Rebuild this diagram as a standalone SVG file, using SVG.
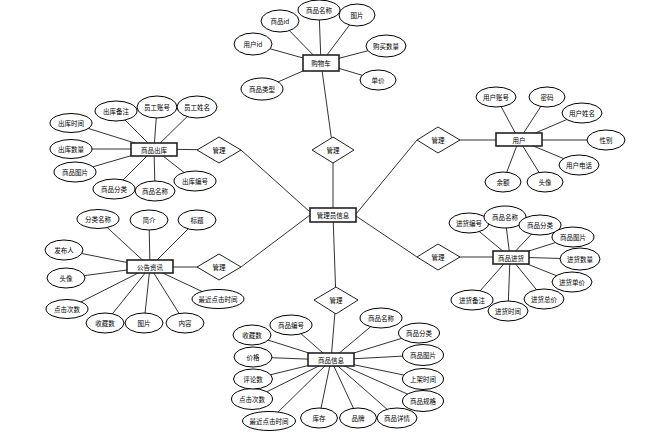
<svg xmlns="http://www.w3.org/2000/svg" width="646" height="445" viewBox="0 0 646 445">
<style>
.c line{stroke:#333;stroke-width:1}
ellipse{fill:#fff;stroke:#000;stroke-width:1}
rect.e{fill:#fff;stroke:#222;stroke-width:1.6}
polygon{fill:#fff;stroke:#222;stroke-width:1}
text{font-family:"Noto Sans CJK SC","Noto Sans",sans-serif;font-size:6.5px;text-anchor:middle;dominant-baseline:central;fill:#000}
</style>
<rect width="646" height="445" fill="#fff"/>
<g class="c" id="connectors">
<!-- main -->
<line x1="333" y1="215" x2="336" y2="300"/>
<line x1="333" y1="215" x2="333" y2="150"/>
<line x1="333" y1="150" x2="321" y2="63"/>
<line x1="310" y1="212" x2="241" y2="150"/>
<line x1="219" y1="150" x2="154" y2="149"/>
<line x1="310" y1="215" x2="241" y2="267"/>
<line x1="219" y1="267" x2="150" y2="267"/>
<line x1="356" y1="214" x2="417" y2="140"/>
<line x1="438" y1="140" x2="519" y2="140"/>
<line x1="356" y1="216" x2="417" y2="257"/>
<line x1="438" y1="257" x2="510" y2="257"/>
<line x1="336" y1="300" x2="331" y2="360"/>
<!-- cart -->
<line x1="321" y1="63" x2="280" y2="21"/>
<line x1="321" y1="63" x2="319" y2="10"/>
<line x1="321" y1="63" x2="357" y2="15"/>
<line x1="321" y1="63" x2="253" y2="44"/>
<line x1="321" y1="63" x2="386" y2="46"/>
<line x1="321" y1="63" x2="378" y2="80"/>
<line x1="321" y1="63" x2="262" y2="89"/>
<!-- outbound -->
<line x1="154" y1="149" x2="71" y2="123"/>
<line x1="154" y1="149" x2="71" y2="149"/>
<line x1="154" y1="149" x2="75" y2="172"/>
<line x1="154" y1="149" x2="116" y2="111"/>
<line x1="154" y1="149" x2="157" y2="107"/>
<line x1="154" y1="149" x2="197" y2="107"/>
<line x1="154" y1="149" x2="114" y2="189"/>
<line x1="154" y1="149" x2="155" y2="191"/>
<line x1="154" y1="149" x2="195" y2="181"/>
<!-- notice -->
<line x1="150" y1="267" x2="98" y2="219"/>
<line x1="150" y1="267" x2="149" y2="220"/>
<line x1="150" y1="267" x2="197" y2="220"/>
<line x1="150" y1="267" x2="64" y2="250"/>
<line x1="150" y1="267" x2="66" y2="278"/>
<line x1="150" y1="267" x2="67" y2="309"/>
<line x1="150" y1="267" x2="105" y2="323"/>
<line x1="150" y1="267" x2="144" y2="323"/>
<line x1="150" y1="267" x2="185" y2="323"/>
<line x1="150" y1="267" x2="218" y2="299"/>
<!-- user -->
<line x1="519" y1="140" x2="496" y2="97"/>
<line x1="519" y1="140" x2="547" y2="97"/>
<line x1="519" y1="140" x2="582" y2="113"/>
<line x1="519" y1="140" x2="606" y2="140"/>
<line x1="519" y1="140" x2="579" y2="165"/>
<line x1="519" y1="140" x2="545" y2="182"/>
<line x1="519" y1="140" x2="503" y2="182"/>
<!-- purchase -->
<line x1="510" y1="257" x2="469" y2="223"/>
<line x1="510" y1="257" x2="505" y2="217"/>
<line x1="510" y1="257" x2="540" y2="225"/>
<line x1="510" y1="257" x2="573" y2="237"/>
<line x1="510" y1="257" x2="580" y2="259"/>
<line x1="510" y1="257" x2="572" y2="282"/>
<line x1="510" y1="257" x2="544" y2="299"/>
<line x1="510" y1="257" x2="508" y2="311"/>
<line x1="510" y1="257" x2="472" y2="300"/>
<!-- goods -->
<line x1="331" y1="360" x2="291" y2="325"/>
<line x1="331" y1="360" x2="381" y2="318"/>
<line x1="331" y1="360" x2="419" y2="333"/>
<line x1="331" y1="360" x2="423" y2="355"/>
<line x1="331" y1="360" x2="423" y2="379"/>
<line x1="331" y1="360" x2="423" y2="401"/>
<line x1="331" y1="360" x2="397" y2="418"/>
<line x1="331" y1="360" x2="358" y2="418"/>
<line x1="331" y1="360" x2="319" y2="418"/>
<line x1="331" y1="360" x2="269" y2="421"/>
<line x1="331" y1="360" x2="252" y2="399"/>
<line x1="331" y1="360" x2="253" y2="379"/>
<line x1="331" y1="360" x2="253" y2="357"/>
<line x1="331" y1="360" x2="252" y2="335"/>
</g>

<g id="admin"><rect class="e" x="310" y="208" width="46" height="14"/><text x="333" y="215">管理员信息</text></g>

<g id="rel-top"><polygon points="333,137 354,150 333,163 312,150"/><text x="333" y="150">管理</text></g>
<g id="rel-ul"><polygon points="219,137 241,150 219,163 197,150"/><text x="219" y="150">管理</text></g>
<g id="rel-ll"><polygon points="219,254 241,267 219,280 197,267"/><text x="219" y="267">管理</text></g>
<g id="rel-ur"><polygon points="438,127 460,140 438,153 417,140"/><text x="438" y="140">管理</text></g>
<g id="rel-lr"><polygon points="438,244 460,257 438,270 417,257"/><text x="438" y="257">管理</text></g>
<g id="rel-b"><polygon points="336,287 358,300 336,314 314,300"/><text x="336" y="300">管理</text></g>

<g id="cart"><rect class="e" x="303" y="55" width="36" height="16"/><text x="321" y="63">购物车</text></g>
<g id="cart-a1"><ellipse cx="280" cy="21" rx="19" ry="11"/><text x="280" y="21">商品id</text></g>
<g id="cart-a2"><ellipse cx="319" cy="10" rx="21" ry="10"/><text x="319" y="10">商品名称</text></g>
<g id="cart-a3"><ellipse cx="357" cy="15" rx="18" ry="11"/><text x="357" y="15">图片</text></g>
<g id="cart-a4"><ellipse cx="253" cy="44" rx="19" ry="11"/><text x="253" y="44">用户id</text></g>
<g id="cart-a5"><ellipse cx="386" cy="46" rx="20" ry="11"/><text x="386" y="46">购买数量</text></g>
<g id="cart-a6"><ellipse cx="378" cy="80" rx="18" ry="10"/><text x="378" y="80">单价</text></g>
<g id="cart-a7"><ellipse cx="262" cy="89" rx="21" ry="11"/><text x="262" y="89">商品类型</text></g>

<g id="outbound"><rect class="e" x="131" y="143" width="46" height="13"/><text x="154" y="149.5">商品出库</text></g>
<g id="ob-a1"><ellipse cx="71" cy="123" rx="21" ry="9.5"/><text x="71" y="123">出库时间</text></g>
<g id="ob-a2"><ellipse cx="71" cy="149" rx="21" ry="9.5"/><text x="71" y="149">出库数量</text></g>
<g id="ob-a3"><ellipse cx="75" cy="172" rx="21" ry="10"/><text x="75" y="172">商品图片</text></g>
<g id="ob-a4"><ellipse cx="116" cy="111" rx="21" ry="10"/><text x="116" y="111">出库备注</text></g>
<g id="ob-a5"><ellipse cx="157" cy="107" rx="20" ry="11"/><text x="157" y="107">员工账号</text></g>
<g id="ob-a6"><ellipse cx="197" cy="107" rx="20" ry="11"/><text x="197" y="107">员工姓名</text></g>
<g id="ob-a7"><ellipse cx="114" cy="189" rx="21" ry="10"/><text x="114" y="189">商品分类</text></g>
<g id="ob-a8"><ellipse cx="155" cy="191" rx="20" ry="10"/><text x="155" y="191">商品名称</text></g>
<g id="ob-a9"><ellipse cx="195" cy="181" rx="21" ry="10"/><text x="195" y="181">出库编号</text></g>

<g id="notice"><rect class="e" x="127" y="260" width="46" height="13"/><text x="150" y="266.5">公告资讯</text></g>
<g id="nt-a1"><ellipse cx="98" cy="219" rx="21" ry="9.5"/><text x="98" y="219">分类名称</text></g>
<g id="nt-a2"><ellipse cx="149" cy="220" rx="19" ry="10"/><text x="149" y="220">简介</text></g>
<g id="nt-a3"><ellipse cx="197" cy="220" rx="19" ry="10"/><text x="197" y="220">标题</text></g>
<g id="nt-a4"><ellipse cx="64" cy="250" rx="19" ry="10"/><text x="64" y="250">发布人</text></g>
<g id="nt-a5"><ellipse cx="66" cy="278" rx="19" ry="10"/><text x="66" y="278">头像</text></g>
<g id="nt-a6"><ellipse cx="67" cy="309" rx="21" ry="9.5"/><text x="67" y="309">点击次数</text></g>
<g id="nt-a7"><ellipse cx="105" cy="323" rx="19" ry="10"/><text x="105" y="323">收藏数</text></g>
<g id="nt-a8"><ellipse cx="144" cy="323" rx="19" ry="10"/><text x="144" y="323">图片</text></g>
<g id="nt-a9"><ellipse cx="185" cy="323" rx="19" ry="10"/><text x="185" y="323">内容</text></g>
<g id="nt-a10"><ellipse cx="218" cy="299" rx="26" ry="9.5"/><text x="218" y="299">最近点击时间</text></g>

<g id="user"><rect class="e" x="496" y="133" width="46" height="13"/><text x="519" y="139.5">用户</text></g>
<g id="us-a1"><ellipse cx="496" cy="97" rx="20" ry="10"/><text x="496" y="97">用户账号</text></g>
<g id="us-a2"><ellipse cx="547" cy="97" rx="18" ry="10"/><text x="547" y="97">密码</text></g>
<g id="us-a3"><ellipse cx="582" cy="113" rx="20" ry="10"/><text x="582" y="113">用户姓名</text></g>
<g id="us-a4"><ellipse cx="606" cy="140" rx="19" ry="10"/><text x="606" y="140">性别</text></g>
<g id="us-a5"><ellipse cx="579" cy="165" rx="20" ry="10"/><text x="579" y="165">用户电话</text></g>
<g id="us-a6"><ellipse cx="545" cy="182" rx="18" ry="10"/><text x="545" y="182">头像</text></g>
<g id="us-a7"><ellipse cx="503" cy="182" rx="18" ry="10"/><text x="503" y="182">余额</text></g>

<g id="purchase"><rect class="e" x="493" y="251" width="36" height="13"/><text x="511" y="257.5">商品进货</text></g>
<g id="pu-a1"><ellipse cx="469" cy="223" rx="20" ry="10"/><text x="469" y="223">进货编号</text></g>
<g id="pu-a2"><ellipse cx="505" cy="217" rx="21" ry="11"/><text x="505" y="217">商品名称</text></g>
<g id="pu-a3"><ellipse cx="540" cy="225" rx="21" ry="10"/><text x="540" y="225">商品分类</text></g>
<g id="pu-a4"><ellipse cx="573" cy="237" rx="21" ry="10"/><text x="573" y="237">商品图片</text></g>
<g id="pu-a5"><ellipse cx="580" cy="259" rx="20" ry="11"/><text x="580" y="259">进货数量</text></g>
<g id="pu-a6"><ellipse cx="572" cy="282" rx="20" ry="10"/><text x="572" y="282">进货单价</text></g>
<g id="pu-a7"><ellipse cx="544" cy="299" rx="20" ry="10"/><text x="544" y="299">进货总价</text></g>
<g id="pu-a8"><ellipse cx="508" cy="311" rx="20" ry="10"/><text x="508" y="311">进货时间</text></g>
<g id="pu-a9"><ellipse cx="472" cy="300" rx="21" ry="10"/><text x="472" y="300">进货备注</text></g>

<g id="goods"><rect class="e" x="308" y="353" width="46" height="13"/><text x="331" y="359.5">商品信息</text></g>
<g id="gd-a1"><ellipse cx="291" cy="325" rx="21" ry="10"/><text x="291" y="325">商品编号</text></g>
<g id="gd-a2"><ellipse cx="381" cy="318" rx="21" ry="10"/><text x="381" y="318">商品名称</text></g>
<g id="gd-a3"><ellipse cx="419" cy="333" rx="20.5" ry="10"/><text x="419" y="333">商品分类</text></g>
<g id="gd-a4"><ellipse cx="423" cy="355" rx="20.5" ry="10.5"/><text x="423" y="355">商品图片</text></g>
<g id="gd-a5"><ellipse cx="423" cy="379" rx="20.5" ry="10.5"/><text x="423" y="379">上架时间</text></g>
<g id="gd-a6"><ellipse cx="423" cy="401" rx="20.5" ry="10.5"/><text x="423" y="401">商品规格</text></g>
<g id="gd-a7"><ellipse cx="397" cy="418" rx="20" ry="10"/><text x="397" y="418">商品详情</text></g>
<g id="gd-a8"><ellipse cx="358" cy="418" rx="18.5" ry="10"/><text x="358" y="418">品牌</text></g>
<g id="gd-a9"><ellipse cx="319" cy="418" rx="18.5" ry="10"/><text x="319" y="418">库存</text></g>
<g id="gd-a10"><ellipse cx="269" cy="421" rx="26.5" ry="9.5"/><text x="269" y="421">最近点击时间</text></g>
<g id="gd-a11"><ellipse cx="252" cy="399" rx="20.5" ry="10.5"/><text x="252" y="399">点击次数</text></g>
<g id="gd-a12"><ellipse cx="253" cy="379" rx="19.5" ry="10"/><text x="253" y="379">评论数</text></g>
<g id="gd-a13"><ellipse cx="253" cy="357" rx="19" ry="10"/><text x="253" y="357">价格</text></g>
<g id="gd-a14"><ellipse cx="252" cy="335" rx="19" ry="10"/><text x="252" y="335">收藏数</text></g>
</svg>
